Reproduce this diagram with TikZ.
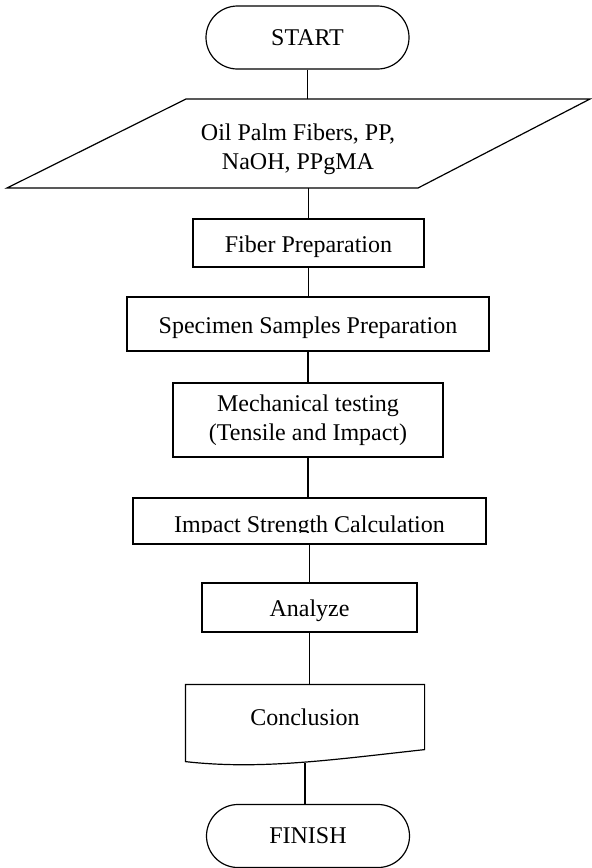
\documentclass[tikz,border=0pt]{standalone}
\usepackage{fontspec}
\setmainfont{Liberation Serif}
\usepackage{tikz}
\usetikzlibrary{calc}

\tikzset{
  term/.style={draw, rounded corners=15.75pt, minimum width=101.5pt, minimum height=31.5pt, inner sep=0pt},
  proc/.style={draw, inner sep=0pt},
  oneline/.style={text height=9pt, text depth=0pt},
}

\begin{document}
\begin{tikzpicture}[x=0.5pt, y=-0.5pt, line width=0.6pt,
    font=\fontsize{12pt}{14.5pt}\selectfont]
    \useasboundingbox (0,0) rectangle (591,868);

    % begin / end
    \node[term] (start) at (307.5,37.5) {START};
    \node[term] (finish) at (308,836) {FINISH};

    % input (parallelogram)
    \coordinate (in-tl) at (186,99);
    \coordinate (in-tr) at (590,99);
    \coordinate (in-br) at (418,188);
    \coordinate (in-bl) at (7,188);
    \draw (in-tl) -- (in-tr) -- (in-br) -- (in-bl) -- cycle;
    \node[align=center, inner sep=0pt] (input) at (298,149) {Oil Palm Fibers, PP,\\NaOH, PPgMA};

    % process steps
    \node[proc, oneline, minimum width=115.5pt, minimum height=24pt] (fiber) at (308.5,243) {Fiber Preparation};
    \node[proc, oneline, minimum width=181pt, minimum height=27pt] (spec) at (308,324) {Specimen Samples Preparation};
    \node[proc, align=center, minimum width=135pt, minimum height=37pt] (mech) at (308,420) {Mechanical testing\\(Tensile and Impact)};
    \node[proc, minimum width=176.5pt, minimum height=23pt] (impact) at (309.5,521) {};
    \begin{scope}
        \clip (impact.north west) rectangle ($(impact.east)+(0,11)$);
        \node[oneline, inner sep=0pt] (impact-txt) at (309.5,523) {Impact Strength Calculation};
    \end{scope}
    \node[proc, oneline, minimum width=107.5pt, minimum height=24.5pt] (analyze) at (309.5,607.5) {Analyze};

    % document shape
    \node[inner sep=0pt, text height=8pt, text depth=0pt, minimum width=119pt, minimum height=32pt] (conc) at (305,717) {Conclusion};
    \draw ($(conc.south west)+(0,12)$) -- (conc.north west) -- (conc.north east) -- (conc.south east)
        .. controls (330,760) and (260,770) .. ($(conc.south west)+(0,12)$) -- cycle;
    \coordinate (conc-out) at (305,763);

    % connectors
    \draw (start.south) -- (start.south |- in-tl);
    \draw (fiber.north |- in-bl) -- (fiber.north);
    \draw (fiber.south) -- (fiber.south |- spec.north);
    \draw (spec.south) -- (spec.south |- mech.north);
    \draw (mech.south) -- (mech.south |- impact.north);
    \draw (impact.south) -- (impact.south |- analyze.north);
    \draw (analyze.south) -- (analyze.south |- conc.north);
    \draw (conc-out) -- (conc-out |- finish.north);
\end{tikzpicture}
\end{document}
